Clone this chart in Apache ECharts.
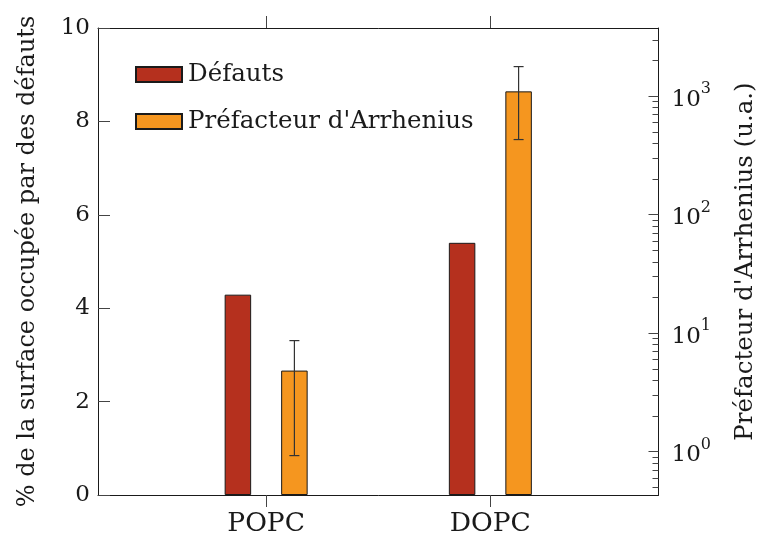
<!DOCTYPE html>
<html lang="fr">
<head>
<meta charset="UTF-8">
<title>Défauts et préfacteur</title>
<script src="https://cdn.jsdelivr.net/npm/echarts@6/dist/echarts.min.js"></script>
</head>
<body style="margin:0">
<div id="chart" style="width:761px;height:539px;"></div>
<script>
// données
var categories = ['POPC', 'DOPC'];
var defauts = [4.29, 5.40];              // % de surface (axe gauche)
var prefacteur = [4.83, 1100];           // u.a. (axe log droit)
var prefErrLow = [0.925, 431];
var prefErrHigh = [8.65, 1780];
var logMajor = [1, 10, 100, 1000];
var logMinor = [0.5, 0.6, 0.7, 0.8, 0.9, 2, 3, 4, 5, 6, 7, 8, 9,
  20, 30, 40, 50, 60, 70, 80, 90, 200, 300, 400, 500, 600, 700, 800, 900, 2000, 3000];

var FONT = 'DejaVu Serif';
var RED = '#B5301E', ORANGE = '#F5961F', INK = '#1a1a1a', TICK = '#444';
var BAR_W = 26.5, BAR_GAP = 30;
var LOG_MIN = 0.43, LOG_MAX = 3770;

var chart = echarts.init(document.getElementById('chart'));

var option = {
  animation: false,
  textStyle: { fontFamily: FONT, color: INK },
  grid: { left: 98, right: 102.5, top: 28, bottom: 44, outerBoundsMode: 'none', containLabel: false },
  legend: {
    orient: 'vertical', left: 135, top: 62, padding: 0,
    itemWidth: 46, itemHeight: 15, itemGap: 22,
    icon: 'rect',
    textStyle: { fontFamily: FONT, fontSize: 24.5, color: INK, padding: [0, 0, 0, 1] },
    data: ['Défauts', "Préfacteur d'Arrhenius"]
  },
  xAxis: [
    {
      type: 'value', position: 'bottom', min: -0.75, max: 1.75,
      axisLine: { onZero: false, lineStyle: { color: INK, width: 1 } },
      axisTick: { customValues: [0, 1], inside: false, length: 12, lineStyle: { color: TICK } },
      axisLabel: {
        customValues: [0, 1], margin: 16, fontFamily: FONT, fontSize: 26.5, color: INK,
        formatter: function (v) { return categories[Math.round(v)]; }
      },
      splitLine: { show: false }
    },
    {
      type: 'value', position: 'top', min: -0.75, max: 1.75,
      axisLine: { show: true, onZero: false, lineStyle: { color: INK, width: 1 } },
      axisTick: { customValues: [0, 1], inside: false, length: 12, lineStyle: { color: TICK } },
      axisLabel: { show: false },
      splitLine: { show: false }
    }
  ],
  yAxis: [
    {
      type: 'value', position: 'left', min: 0, max: 10, interval: 2,
      name: '% de la surface occupée par des défauts',
      nameLocation: 'middle', nameRotate: 90, nameGap: 58,
      nameTextStyle: { fontFamily: FONT, fontSize: 24, color: INK },
      axisLine: { show: true, onZero: false, lineStyle: { color: INK, width: 1 } },
      axisTick: { show: true, inside: true, length: 12, lineStyle: { color: TICK } },
      axisLabel: { margin: 8, fontFamily: FONT, fontSize: 23, color: INK },
      splitLine: { show: false }
    },
    {
      type: 'log', position: 'right', min: LOG_MIN, max: LOG_MAX, startValue: LOG_MIN,
      name: "Préfacteur d'Arrhenius (u.a.)",
      nameLocation: 'middle', nameRotate: 90, nameGap: 75,
      nameTextStyle: { fontFamily: FONT, fontSize: 24.5, color: INK },
      axisLine: { show: true, onZero: false, lineStyle: { color: INK, width: 1 } },
      axisTick: { customValues: logMajor, inside: true, length: 10, lineStyle: { color: TICK } },
      axisLabel: {
        customValues: logMajor, margin: 13,
        formatter: function (v) {
          return '{b|10}{s|' + Math.round(Math.log(v) / Math.LN10) + '}';
        },
        rich: {
          b: { fontFamily: FONT, fontSize: 23, color: INK, lineHeight: 30, verticalAlign: 'bottom' },
          s: { fontFamily: FONT, fontSize: 16, color: INK, lineHeight: 30, verticalAlign: 'top' }
        }
      },
      splitLine: { show: false }
    },
    {
      // petites graduations log
      type: 'log', position: 'right', min: LOG_MIN, max: LOG_MAX,
      axisLine: { show: false, onZero: false },
      axisTick: { customValues: logMinor, inside: true, length: 6, lineStyle: { color: TICK } },
      axisLabel: { show: false },
      splitLine: { show: false }
    }
  ],
  series: [
    {
      name: 'Défauts', type: 'bar', xAxisIndex: 0, yAxisIndex: 0,
      barWidth: BAR_W, barGap: (BAR_GAP / BAR_W * 100) + '%',
      itemStyle: { color: RED, borderColor: INK, borderWidth: 1 },
      data: categories.map(function (c, i) { return [i, defauts[i]]; })
    },
    {
      name: "Préfacteur d'Arrhenius", type: 'bar', xAxisIndex: 0, yAxisIndex: 1,
      barWidth: BAR_W,
      itemStyle: { color: ORANGE, borderColor: INK, borderWidth: 1 },
      data: categories.map(function (c, i) { return [i, prefacteur[i]]; })
    },
    {
      name: 'erreur', type: 'custom', xAxisIndex: 0, yAxisIndex: 1, z: 5,
      data: categories.map(function (c, i) { return [i, prefErrLow[i], prefErrHigh[i]]; }),
      renderItem: function (params, api) {
        var lo = api.coord([api.value(0), api.value(1)]);
        var hi = api.coord([api.value(0), api.value(2)]);
        var x = lo[0] + (BAR_W + BAR_GAP) / 2;
        var cap = 5;
        var st = { stroke: '#333', lineWidth: 1.2 };
        return {
          type: 'group',
          children: [
            { type: 'line', shape: { x1: x, y1: lo[1], x2: x, y2: hi[1] }, style: st },
            { type: 'line', shape: { x1: x - cap, y1: lo[1], x2: x + cap, y2: lo[1] }, style: st },
            { type: 'line', shape: { x1: x - cap, y1: hi[1], x2: x + cap, y2: hi[1] }, style: st }
          ]
        };
      }
    }
  ]
};

chart.setOption(option);
</script>
</body>
</html>
